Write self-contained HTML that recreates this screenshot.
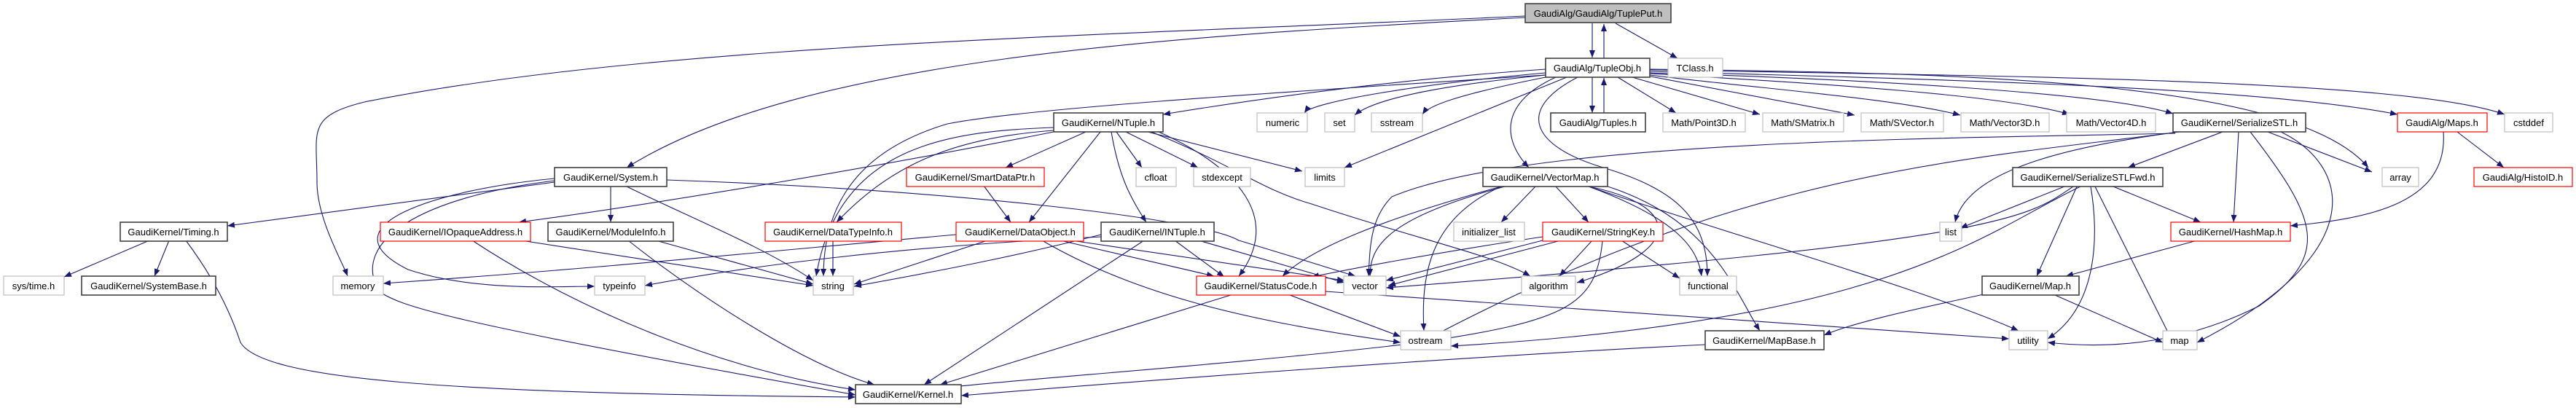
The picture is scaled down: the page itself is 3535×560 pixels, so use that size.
<!DOCTYPE html>
<html><head><meta charset="utf-8"><style>
html,body{margin:0;padding:0;background:#fff;width:3535px;height:560px;overflow:hidden}
svg{display:block}
text{font-family:"Liberation Sans",sans-serif;font-size:13px;fill:#000;text-anchor:middle}
.e{fill:none;stroke:#191970;stroke-width:1.1;marker-end:url(#a)}
.k{fill:#fff;stroke:#404040;stroke-width:1.6}
.r{fill:#fff;stroke:#ff0000;stroke-width:1.2}
.g{fill:#fff;stroke:#bfbfbf;stroke-width:1.2}
</style></head><body>
<svg width="3535" height="560" viewBox="0 0 3535 560" xmlns="http://www.w3.org/2000/svg">
<defs><marker id="a" viewBox="0 0 10 10" refX="10" refY="5" markerWidth="10" markerHeight="10" markerUnits="userSpaceOnUse" orient="auto"><path d="M0,1 L10,5 L0,9 z" fill="#191970"/></marker></defs>
<g>
<path class="e" d="M2185,32 L2185,79"/>
<path class="e" d="M2201,80 L2201,33"/>
<path class="e" d="M2217,32 L2302,80"/>
<path class="e" d="M2093,24 C1600,50 1100,80 860,230"/>
<path class="e" d="M2093,22 C1500,50 900,60 500,140 C420,160 435,180 435,250 C435,300 470,360 477,379"/>
<path class="e" d="M2121,95 C1900,110 1700,140 1596,157"/>
<path class="e" d="M2121,100 C1950,115 1800,140 1790,155"/>
<path class="e" d="M2121,103 C1950,120 1880,140 1859,158"/>
<path class="e" d="M2121,106 C2000,130 1960,145 1952,157"/>
<path class="e" d="M2185,106 L2185,155"/>
<path class="e" d="M2201,155 L2201,107"/>
<path class="e" d="M2220,106 L2300,155"/>
<path class="e" d="M2240,106 L2415,157"/>
<path class="e" d="M2260,104 L2545,158"/>
<path class="e" d="M2264,103 C2400,120 2600,135 2690,158"/>
<path class="e" d="M2264,101 C2500,115 2750,130 2840,157"/>
<path class="e" d="M2264,100 C2600,110 2900,130 2982,156"/>
<path class="e" d="M2264,98 C2700,110 3100,120 3290,157"/>
<path class="e" d="M2264,96 C2800,105 3300,110 3437,157"/>
<path class="e" d="M2264,95 C2700,100 3150,110 3250,230"/>
<path class="e" d="M2150,106 L1845,230"/>
<path class="e" d="M2135,106 C2060,140 2060,190 2098,230"/>
<path class="e" d="M2165,106 C2080,150 2100,200 2200,230 C2300,260 2343,300 2343,379"/>
<path class="e" d="M2121,103 C1700,130 1400,150 1300,170 C1200,200 1130,260 1130,379"/>
<path class="e" d="M1446,175 C1300,180 1150,200 1120,379"/>
<path class="e" d="M1446,179 C1300,190 1220,230 1148,305"/>
<path class="e" d="M1490,181 L1380,230"/>
<path class="e" d="M1510,181 L1412,305"/>
<path class="e" d="M1525,181 C1535,240 1550,270 1573,305"/>
<path class="e" d="M1532,181 L1567,230"/>
<path class="e" d="M1545,181 L1644,230"/>
<path class="e" d="M1575,181 L1787,235"/>
<path class="e" d="M1446,181 C1200,230 900,280 712,305"/>
<path class="e" d="M1580,181 C1700,230 1730,260 1800,280 C1950,330 2050,350 2100,379"/>
<path class="e" d="M1590,181 C1700,230 1760,300 1700,379"/>
<path class="e" d="M761,250 L312,310"/>
<path class="e" d="M838,256 L838,305"/>
<path class="e" d="M761,248 C580,270 480,330 520,400 C550,420 600,440 1174,542"/>
<path class="e" d="M761,245 C600,260 440,310 560,370 C650,400 760,393 816,393"/>
<path class="e" d="M860,256 C950,300 1050,340 1116,385"/>
<path class="e" d="M915,247 C1300,260 1650,300 1700,330 C1800,360 1830,370 1860,379"/>
<path class="e" d="M205,330 L88,380"/>
<path class="e" d="M232,330 L212,379"/>
<path class="e" d="M255,330 C300,390 320,440 330,470 C360,520 600,540 1174,545"/>
<path class="e" d="M648,330 C800,430 1000,510 1174,535"/>
<path class="e" d="M715,330 L1116,392"/>
<path class="e" d="M862,330 C950,400 1100,500 1200,528"/>
<path class="e" d="M900,330 L1116,390"/>
<path class="e" d="M1143,331 L1143,379"/>
<path class="e" d="M1350,255 L1387,305"/>
<path class="e" d="M1312,322 C1000,350 800,370 526,389"/>
<path class="e" d="M1355,330 L1172,390"/>
<path class="e" d="M1455,330 L1666,379"/>
<path class="e" d="M1430,330 C1550,400 1700,440 1922,470"/>
<path class="e" d="M1470,330 L1845,385"/>
<path class="e" d="M1570,330 L1268,528"/>
<path class="e" d="M1511,322 C1400,350 1300,370 1172,393"/>
<path class="e" d="M1612,330 L1680,380"/>
<path class="e" d="M1645,330 L1845,388"/>
<path class="e" d="M1511,325 C1200,340 1000,370 885,392"/>
<path class="e" d="M1689,405 L1290,528"/>
<path class="e" d="M1770,405 L1922,462"/>
<path class="e" d="M1819,400 L2757,465"/>
<path class="e" d="M2107,256 L2060,305"/>
<path class="e" d="M2135,256 L2180,305"/>
<path class="e" d="M2065,256 C1900,300 1880,340 1880,379"/>
<path class="e" d="M2060,256 C1960,300 1950,380 1954,454"/>
<path class="e" d="M2180,256 C2300,280 2320,340 2164,388"/>
<path class="e" d="M2180,256 C2300,300 2330,340 2335,379"/>
<path class="e" d="M2200,254 C2350,300 2380,400 2415,454"/>
<path class="e" d="M2180,256 C2400,330 2650,400 2770,454"/>
<path class="e" d="M2060,256 C1900,300 1800,340 1760,379"/>
<path class="e" d="M2117,330 L1902,385"/>
<path class="e" d="M2142,330 L1905,392"/>
<path class="e" d="M2185,330 L2140,379"/>
<path class="e" d="M2225,330 L2305,382"/>
<path class="e" d="M2199,331 C2190,420 2150,440 1950,470 C1700,500 1400,520 1300,532"/>
<path class="e" d="M2117,325 C1950,350 1850,370 1800,380"/>
<path class="e" d="M2340,473 C2000,490 1600,520 1319,543"/>
<path class="e" d="M3050,181 L2920,230"/>
<path class="e" d="M3072,181 L3065,305"/>
<path class="e" d="M3112,181 L3255,236"/>
<path class="e" d="M3088,181 C3180,300 3200,350 3100,420 C3000,470 2900,480 2810,470"/>
<path class="e" d="M3130,181 C3230,230 3250,350 3015,470"/>
<path class="e" d="M2990,181 C2850,200 2700,230 2683,305"/>
<path class="e" d="M2990,181 C2700,220 2400,230 1950,470"/>
<path class="e" d="M2985,183 C2700,190 2100,190 1910,270 C1880,300 1880,340 1878,379"/>
<path class="e" d="M2833,256 L2690,313"/>
<path class="e" d="M2850,256 L2795,379"/>
<path class="e" d="M2875,256 L2982,470"/>
<path class="e" d="M2869,256 C2880,320 2880,420 2810,465"/>
<path class="e" d="M2900,256 L3020,305"/>
<path class="e" d="M2855,256 C2720,320 2600,440 1991,475"/>
<path class="e" d="M2845,256 C2780,300 2750,330 1902,395"/>
<path class="e" d="M3015,330 L2835,379"/>
<path class="e" d="M2820,405 L2968,470"/>
<path class="e" d="M2722,404 C2650,420 2550,440 2503,460"/>
<path class="e" d="M3372,181 L3436,230"/>
<path class="e" d="M3353,181 C3360,280 3250,300 3143,310"/>
</g>
<g>
<rect x="2093" y="5" width="200" height="26" fill="#bfbfbf" stroke="#404040" stroke-width="1.6"/><text x="2193" y="23">GaudiAlg/GaudiAlg/TuplePut.h</text>
<rect class="k" x="2121" y="80" width="143" height="26"/><text x="2192" y="98">GaudiAlg/TupleObj.h</text>
<rect class="g" x="2289" y="80" width="75" height="26"/><text x="2326" y="98">TClass.h</text>
<rect class="k" x="1446" y="155" width="150" height="26"/><text x="1521" y="173">GaudiKernel/NTuple.h</text>
<rect class="g" x="1725" y="155" width="69" height="26"/><text x="1760" y="173">numeric</text>
<rect class="g" x="1818" y="155" width="41" height="26"/><text x="1838" y="173">set</text>
<rect class="g" x="1882" y="155" width="70" height="26"/><text x="1917" y="173">sstream</text>
<rect class="k" x="2128" y="155" width="130" height="26"/><text x="2193" y="173">GaudiAlg/Tuples.h</text>
<rect class="g" x="2282" y="155" width="113" height="26"/><text x="2338" y="173">Math/Point3D.h</text>
<rect class="g" x="2419" y="155" width="111" height="26"/><text x="2474" y="173">Math/SMatrix.h</text>
<rect class="g" x="2554" y="155" width="113" height="26"/><text x="2610" y="173">Math/SVector.h</text>
<rect class="g" x="2691" y="155" width="121" height="26"/><text x="2751" y="173">Math/Vector3D.h</text>
<rect class="g" x="2836" y="155" width="122" height="26"/><text x="2897" y="173">Math/Vector4D.h</text>
<rect class="k" x="2982" y="155" width="182" height="26"/><text x="3073" y="173">GaudiKernel/SerializeSTL.h</text>
<rect class="r" x="3290" y="155" width="123" height="26"/><text x="3351" y="173">GaudiAlg/Maps.h</text>
<rect class="g" x="3437" y="155" width="66" height="26"/><text x="3470" y="173">cstddef</text>
<rect class="k" x="761" y="230" width="154" height="26"/><text x="838" y="248">GaudiKernel/System.h</text>
<rect class="r" x="1244" y="230" width="189" height="26"/><text x="1338" y="248">GaudiKernel/SmartDataPtr.h</text>
<rect class="g" x="1559" y="230" width="55" height="26"/><text x="1586" y="248">cfloat</text>
<rect class="g" x="1638" y="230" width="78" height="26"/><text x="1677" y="248">stdexcept</text>
<rect class="g" x="1791" y="230" width="54" height="26"/><text x="1818" y="248">limits</text>
<rect class="k" x="2035" y="230" width="171" height="26"/><text x="2120" y="248">GaudiKernel/VectorMap.h</text>
<rect class="k" x="2762" y="230" width="206" height="26"/><text x="2865" y="248">GaudiKernel/SerializeSTLFwd.h</text>
<rect class="g" x="3269" y="230" width="50" height="26"/><text x="3294" y="248">array</text>
<rect class="r" x="3395" y="230" width="135" height="26"/><text x="3462" y="248">GaudiAlg/HistoID.h</text>
<rect class="k" x="165" y="305" width="147" height="26"/><text x="238" y="323">GaudiKernel/Timing.h</text>
<rect class="r" x="522" y="305" width="206" height="26"/><text x="625" y="323">GaudiKernel/IOpaqueAddress.h</text>
<rect class="k" x="752" y="305" width="172" height="26"/><text x="838" y="323">GaudiKernel/ModuleInfo.h</text>
<rect class="r" x="1050" y="305" width="187" height="26"/><text x="1143" y="323">GaudiKernel/DataTypeInfo.h</text>
<rect class="r" x="1312" y="305" width="175" height="26"/><text x="1400" y="323">GaudiKernel/DataObject.h</text>
<rect class="k" x="1511" y="305" width="155" height="26"/><text x="1588" y="323">GaudiKernel/INTuple.h</text>
<rect class="g" x="1995" y="305" width="97" height="26"/><text x="2043" y="323">initializer_list</text>
<rect class="r" x="2117" y="305" width="165" height="26"/><text x="2200" y="323">GaudiKernel/StringKey.h</text>
<rect class="g" x="2662" y="305" width="30" height="26"/><text x="2677" y="323">list</text>
<rect class="r" x="2979" y="305" width="164" height="26"/><text x="3061" y="323">GaudiKernel/HashMap.h</text>
<rect class="g" x="5" y="379" width="83" height="26"/><text x="46" y="397">sys/time.h</text>
<rect class="k" x="112" y="379" width="184" height="26"/><text x="204" y="397">GaudiKernel/SystemBase.h</text>
<rect class="g" x="457" y="379" width="69" height="26"/><text x="491" y="397">memory</text>
<rect class="g" x="816" y="379" width="69" height="26"/><text x="850" y="397">typeinfo</text>
<rect class="g" x="1116" y="379" width="55" height="26"/><text x="1143" y="397">string</text>
<rect class="r" x="1642" y="379" width="177" height="26"/><text x="1730" y="397">GaudiKernel/StatusCode.h</text>
<rect class="g" x="1844" y="379" width="58" height="26"/><text x="1873" y="397">vector</text>
<rect class="g" x="2088" y="379" width="74" height="26"/><text x="2125" y="397">algorithm</text>
<rect class="g" x="2305" y="379" width="78" height="26"/><text x="2344" y="397">functional</text>
<rect class="k" x="2720" y="379" width="133" height="26"/><text x="2786" y="397">GaudiKernel/Map.h</text>
<rect class="g" x="1922" y="454" width="69" height="26"/><text x="1956" y="472">ostream</text>
<rect class="k" x="2340" y="454" width="163" height="26"/><text x="2421" y="472">GaudiKernel/MapBase.h</text>
<rect class="g" x="2757" y="454" width="53" height="26"/><text x="2783" y="472">utility</text>
<rect class="g" x="2968" y="454" width="47" height="26"/><text x="2991" y="472">map</text>
<rect class="k" x="1174" y="528" width="145" height="26"/><text x="1246" y="546">GaudiKernel/Kernel.h</text>
</g>
</svg>
</body></html>
